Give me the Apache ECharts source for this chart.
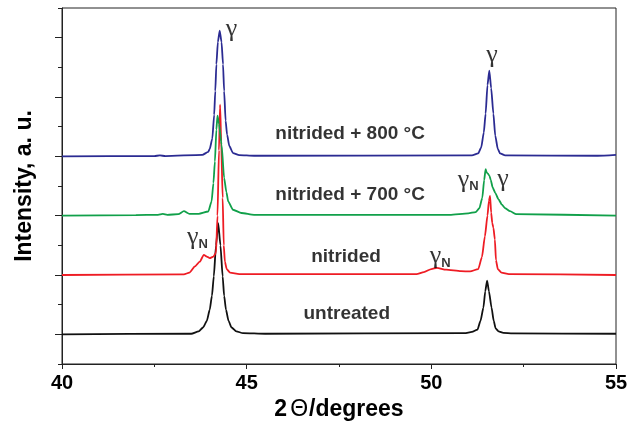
<!DOCTYPE html>
<html>
<head>
<meta charset="utf-8">
<script src="https://cdn.jsdelivr.net/npm/echarts@6/dist/echarts.min.js"></script>
<style>html,body{margin:0;padding:0;background:#fff;}#c{width:639px;height:426px;}</style>
</head>
<body>
<div id="c"></div>
<script>
// Baseline offsets of the stacked patterns (axis units)
var offsets = { untreated: 1, nitrided: 3, n700: 5, n800: 7 };

// untreated (black)
var untreatedX = [40, 43.5, 43.7, 43.82, 43.92, 44.0, 44.06, 44.11, 44.17, 44.23, 44.29, 44.35, 44.39, 44.44, 44.51, 44.59, 44.72, 44.9, 45.5, 50.9, 51.1, 51.25, 51.33, 51.41, 51.46, 51.51, 51.56, 51.63, 51.69, 51.74, 51.82, 51.95, 52.2, 55];
var untreatedY = [0, 0.02, 0.1, 0.23, 0.45, 0.83, 1.3, 1.95, 3.0, 3.75, 3.0, 1.95, 1.3, 0.83, 0.45, 0.23, 0.1, 0.04, 0.02, 0.04, 0.08, 0.16, 0.45, 0.9, 1.45, 1.81, 1.45, 0.9, 0.45, 0.2, 0.1, 0.05, 0.03, 0.02];

// nitrided (red)
var nitridedX = [40, 43.3, 43.45, 43.6, 43.73, 43.84, 43.92, 44.0, 44.1, 44.17, 44.21, 44.25, 44.28, 44.31, 44.35, 44.38, 44.41, 44.46, 44.55, 44.8, 49.6, 49.8, 50.0, 50.15, 50.4, 50.8, 51.05, 51.27, 51.37, 51.45, 51.52, 51.56, 51.59, 51.62, 51.65, 51.68, 51.72, 51.75, 51.8, 51.9, 52.1, 55];
var nitridedY = [0, 0.02, 0.08, 0.29, 0.45, 0.68, 0.62, 0.57, 0.62, 0.75, 2.0, 4.2, 5.74, 4.5, 2.6, 1.0, 0.45, 0.2, 0.08, 0.03, 0.03, 0.1, 0.2, 0.24, 0.18, 0.13, 0.12, 0.2, 0.6, 1.3, 2.0, 2.5, 2.67, 2.1, 1.75, 1.6, 1.2, 0.5, 0.2, 0.08, 0.03, 0.0];

// nitrided + 700 °C (green)
var n700X = [40, 42.0, 42.6, 42.73, 42.85, 43.15, 43.3, 43.45, 43.7, 43.96, 44.05, 44.1, 44.14, 44.18, 44.21, 44.25, 44.32, 44.39, 44.45, 44.5, 44.63, 44.86, 45.2, 50.5, 51.0, 51.2, 51.3, 51.38, 51.43, 51.47, 51.5, 51.53, 51.57, 51.61, 51.66, 51.73, 51.82, 51.91, 52.0, 52.13, 52.3, 55];
var n700Y = [0, 0.02, 0.03, 0.06, 0.03, 0.05, 0.15, 0.06, 0.06, 0.14, 0.48, 1.1, 1.83, 2.9, 3.37, 3.1, 2.39, 1.27, 0.8, 0.48, 0.2, 0.09, 0.03, 0.03, 0.08, 0.12, 0.25, 0.6, 1.2, 1.57, 1.45, 1.42, 1.35, 1.2, 0.95, 0.77, 0.55, 0.37, 0.25, 0.15, 0.05, 0.0];

// nitrided + 800 °C (blue)
var n800X = [40, 42.5, 42.65, 42.8, 43.8, 43.96, 44.0, 44.07, 44.12, 44.15, 44.18, 44.22, 44.27, 44.32, 44.36, 44.39, 44.43, 44.47, 44.53, 44.63, 44.8, 45.2, 51.1, 51.27, 51.35, 51.42, 51.47, 51.52, 51.57, 51.62, 51.68, 51.73, 51.8, 51.86, 52.0, 54.5, 55];
var n800Y = [0, 0.01, 0.03, 0.01, 0.05, 0.15, 0.25, 0.6, 1.4, 2.2, 3.1, 3.85, 4.24, 3.85, 3.1, 2.2, 1.2, 0.73, 0.35, 0.11, 0.04, 0.02, 0.03, 0.1, 0.3, 0.8, 1.44, 2.4, 2.89, 2.3, 1.44, 0.7, 0.25, 0.1, 0.03, 0.02, 0.05];

// X axis tick labels
var xTicks = [40, 45, 50, 55];

// Annotations: [x, y, text]
var sampleLabels = [
  [47.71, 1.70, 'untreated'],
  [47.69, 3.63, 'nitrided'],
  [47.80, 5.71, 'nitrided + 700 °C'],
  [47.80, 7.77, 'nitrided + 800 °C']
];
var phaseLabels = [
  [44.59, 11.28, '{g|γ}'],
  [51.645, 10.42, '{g|γ}'],
  [43.67, 4.26, '{g|γ}{n|N}'],
  [50.995, 6.21, '{g|γ}{n|N}'],
  [51.94, 6.22, '{g|γ}'],
  [50.24, 3.62, '{g|γ}{n|N}']
];

function pts(xs, ys, off) {
  return xs.map(function (x, i) { return [x, ys[i] + off]; });
}

var chart = echarts.init(document.getElementById('c'), null, { renderer: 'canvas' });
var lw = 1.8;
var ink = '#000';
function line(name, xs, ys, off, color) {
  return {
    name: name, type: 'line', showSymbol: false, symbol: 'none',
    smooth: 0.2, smoothMonotone: 'x',
    lineStyle: { color: color, width: lw },
    data: pts(xs, ys, off), z: 3
  };
}

chart.setOption({
  animation: false,
  grid: { left: 62, right: 23, top: 8, bottom: 62, show: true, borderColor: '#222', borderWidth: 1, backgroundColor: 'transparent' },
  xAxis: {
    type: 'value', min: 40, max: 55, interval: 5,
    name: '{a|2}{t|Θ}{a|/degrees}', nameLocation: 'middle', nameGap: 34,
    nameTextStyle: { fontFamily: 'Liberation Sans', fontWeight: 'bold', fontSize: 23, color: ink,
      rich: {
        a: { fontFamily: 'Liberation Sans', fontWeight: 'bold', fontSize: 23, color: ink },
        t: { fontFamily: 'Liberation Sans', fontWeight: 'normal', fontSize: 23, color: ink, padding: [0, 1, 0, 3] }
      } },
    axisLine: { onZero: false, lineStyle: { color: '#222', width: 1 } },
    axisTick: { inside: false, length: 5, lineStyle: { color: '#222' } },
    minorTick: { show: true, splitNumber: 2, length: 3, lineStyle: { color: '#222' } },
    splitLine: { show: false },
    axisLabel: { margin: 9, fontFamily: 'Liberation Sans', fontWeight: 'bold', fontSize: 20, color: ink,
      formatter: function (v) { return xTicks.indexOf(v) >= 0 ? String(v) : ''; } }
  },
  yAxis: {
    type: 'value', min: 0, max: 12, interval: 2,
    name: 'Intensity, a. u.', nameLocation: 'middle', nameGap: 26, nameRotate: 90,
    nameTextStyle: { fontFamily: 'Liberation Sans', fontWeight: 'bold', fontSize: 23, color: ink },
    axisLine: { show: true, onZero: false, lineStyle: { color: '#222', width: 1 } },
    axisTick: { show: true, length: 4, lineStyle: { color: '#222' } },
    minorTick: { show: true, splitNumber: 2, length: 7, lineStyle: { color: '#222' } },
    splitLine: { show: false },
    minorSplitLine: { show: false },
    axisLabel: { show: false }
  },
  series: [
    line('untreated', untreatedX, untreatedY, offsets.untreated, '#111111'),
    line('nitrided', nitridedX, nitridedY, offsets.nitrided, '#ee1c24'),
    line('nitrided + 700 °C', n700X, n700Y, offsets.n700, '#11a04a'),
    line('nitrided + 800 °C', n800X, n800Y, offsets.n800, '#2b2b92'),
    {
      type: 'scatter', symbolSize: 1, itemStyle: { color: 'rgba(0,0,0,0)' }, silent: true, z: 5,
      data: sampleLabels,
      label: { show: true, position: 'inside', formatter: function (p) { return p.data[2]; },
        fontFamily: 'Liberation Sans', fontWeight: 'bold', fontSize: 19, color: ink }
    },
    {
      type: 'scatter', symbolSize: 1, itemStyle: { color: 'rgba(0,0,0,0)' }, silent: true, z: 5,
      data: phaseLabels,
      label: { show: true, position: 'inside', formatter: function (p) { return p.data[2]; },
        rich: {
          g: { fontFamily: 'Liberation Serif', fontWeight: 'normal', fontSize: 26, color: ink, lineHeight: 30, verticalAlign: 'middle' },
          n: { fontFamily: 'Liberation Sans', fontWeight: 'bold', fontSize: 13, color: ink, lineHeight: 30, verticalAlign: 'bottom', padding: [0, 0, 2, 0] }
        } }
    }
  ]
});
</script>
</body>
</html>
